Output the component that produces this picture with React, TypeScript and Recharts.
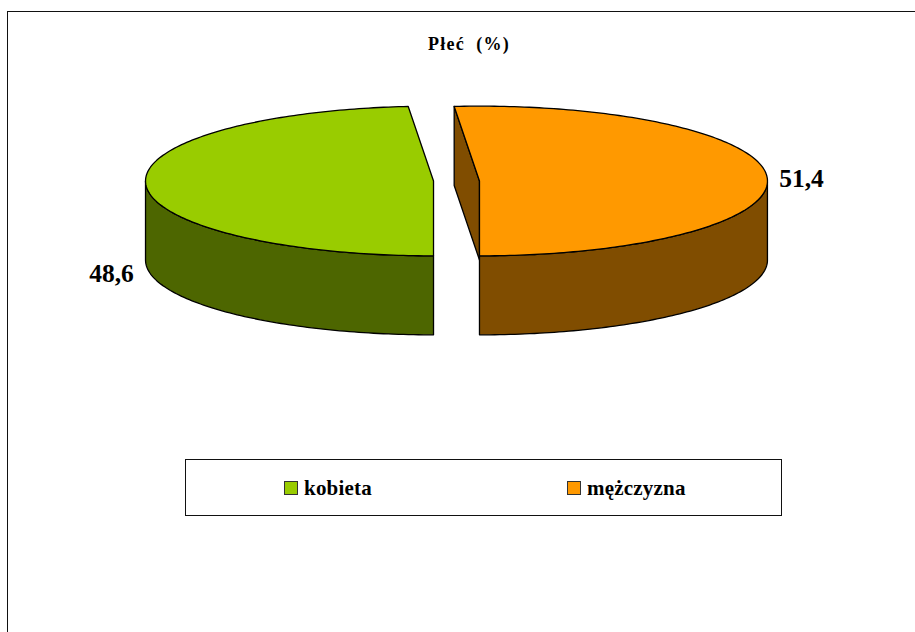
import { Legend, Pie, PieChart } from "recharts";

const categories = ["kobieta", "mężczyzna"];
const shares = [48.6, 51.4];
const shareLabels = ["48,6", "51,4"];
const sliceColors = ["#99CC00", "#FF9900"];
const wallColors = ["#4D6600", "#804D00"];

const tableData = categories.map((name, i) => ({
  name,
  value: shares[i],
  fill: sliceColors[i],
  wall: wallColors[i],
}));

const FONT = "'Liberation Serif', 'Times New Roman', serif";
const TILT = 75 / 288.5;
const DEPTH = 79;
const EXPLODE = 23;
const LABEL_REACH = 345;
const LABEL_DROP = [92, -3];
const LEGEND_SWATCH_X = [98, 381];

const rad = (a: number) => (a * Math.PI) / 180;
const toPath = (pts: number[][]) =>
  pts.map((p, i) => `${i ? "L" : "M"}${p[0].toFixed(2)},${p[1].toFixed(2)}`).join(" ") + " Z";

// pie sector drawn as a tilted slab, angles and radius come from the Pie layout
const SlabSector = (props: any) => {
  const { cx, cy, outerRadius, startAngle, endAngle, midAngle, fill, payload } = props;
  const mx = cx + EXPLODE * Math.cos(rad(midAngle));
  const my = cy;
  const at = (a: number) => [
    mx + outerRadius * Math.cos(rad(a)),
    my - outerRadius * TILT * Math.sin(rad(a)),
  ];
  const sweep: number[] = [];
  const step = startAngle > endAngle ? -1 : 1;
  const steps = Math.round(Math.abs(endAngle - startAngle));
  for (let k = 0; k < steps; k++) sweep.push(startAngle + step * k);
  sweep.push(endAngle);

  const front = sweep.filter((a) => Math.sin(rad(a)) <= 1e-6).map(at);
  const wall = [...front, ...[...front].reverse().map((p) => [p[0], p[1] + DEPTH])];
  const top = [[mx, my], ...sweep.map(at)];

  const edgeFace = (a: number) => {
    const p = at(a);
    return [[mx, my], p, [p[0], p[1] + DEPTH], [mx, my + DEPTH]];
  };
  const faces: number[][][] = [];
  if (Math.cos(rad(startAngle)) < -1e-6) faces.push(edgeFace(startAngle));
  if (Math.cos(rad(endAngle)) > 1e-6) faces.push(edgeFace(endAngle));

  const line = { stroke: "#000", strokeWidth: 1.3, strokeLinejoin: "round" as const };
  return (
    <g>
      {faces.map((f, i) => (
        <path key={i} d={toPath(f)} fill={payload.wall} {...line} />
      ))}
      <path d={toPath(wall)} fill={payload.wall} {...line} />
      <path d={toPath(top)} fill={fill} {...line} />
    </g>
  );
};

const renderShareLabel = (props: any) => {
  const { cx, cy, midAngle, index } = props;
  return (
    <text
      x={cx + LABEL_REACH * Math.sign(Math.cos(rad(midAngle)))}
      y={cy + LABEL_DROP[index]}
      textAnchor="middle"
      dominantBaseline="central"
      fontFamily={FONT}
      fontWeight="bold"
      fontSize={25.5}
      fill="#000"
    >
      {shareLabels[index]}
    </text>
  );
};

const renderLegend = ({ payload }: any) => (
  <div style={{ position: "relative", width: 595, height: 55, border: "1px solid #111", boxSizing: "content-box" }}>
    {(payload || []).map((entry: any, i: number) => (
      <div key={entry.value}>
        <span
          style={{
            position: "absolute",
            left: LEGEND_SWATCH_X[i],
            top: 21,
            width: 12,
            height: 12,
            background: entry.color,
            border: "1px solid #333",
          }}
        />
        <span
          style={{
            position: "absolute",
            left: LEGEND_SWATCH_X[i] + 20,
            top: 16,
            fontFamily: FONT,
            fontWeight: "bold",
            fontSize: 21,
            letterSpacing: 0.2,
            lineHeight: "24px",
            color: "#000",
            whiteSpace: "nowrap",
          }}
        >
          {entry.value}
        </span>
      </div>
    ))}
  </div>
);

export default function App() {
  return (
    <div style={{ position: "absolute", left: 0, top: 0, width: 915, height: 632, overflow: "hidden", background: "#fff" }}>
      <div
        style={{
          position: "absolute",
          left: 7,
          top: 11,
          width: 930,
          height: 650,
          borderLeft: "1px solid #111",
          borderTop: "1px solid #111",
        }}
      />
      <div style={{ position: "absolute", left: 0, top: 0 }}>
        <PieChart width={915} height={632} margin={{ top: 0, right: 0, bottom: 0, left: 0 }}>
          <text
            x={469}
            y={50}
            textAnchor="middle"
            fontFamily={FONT}
            fontWeight="bold"
            fontSize={18}
            letterSpacing={1.2}
            fill="#000"
            style={{ whiteSpace: "pre" }}
          >
            {"Płeć  (%)"}
          </text>
          <Pie
            data={tableData}
            dataKey="value"
            nameKey="name"
            cx={456.5}
            cy={181}
            innerRadius={0}
            outerRadius={288}
            startAngle={-90}
            endAngle={-450}
            paddingAngle={0}
            stroke="none"
            shape={SlabSector}
            label={renderShareLabel}
            labelLine={false}
            isAnimationActive={false}
          />
          <Legend
            content={renderLegend}
            wrapperStyle={{ position: "absolute", left: 185, top: 459, width: 597, height: 57, bottom: "auto", right: "auto" }}
          />
        </PieChart>
      </div>
    </div>
  );
}
